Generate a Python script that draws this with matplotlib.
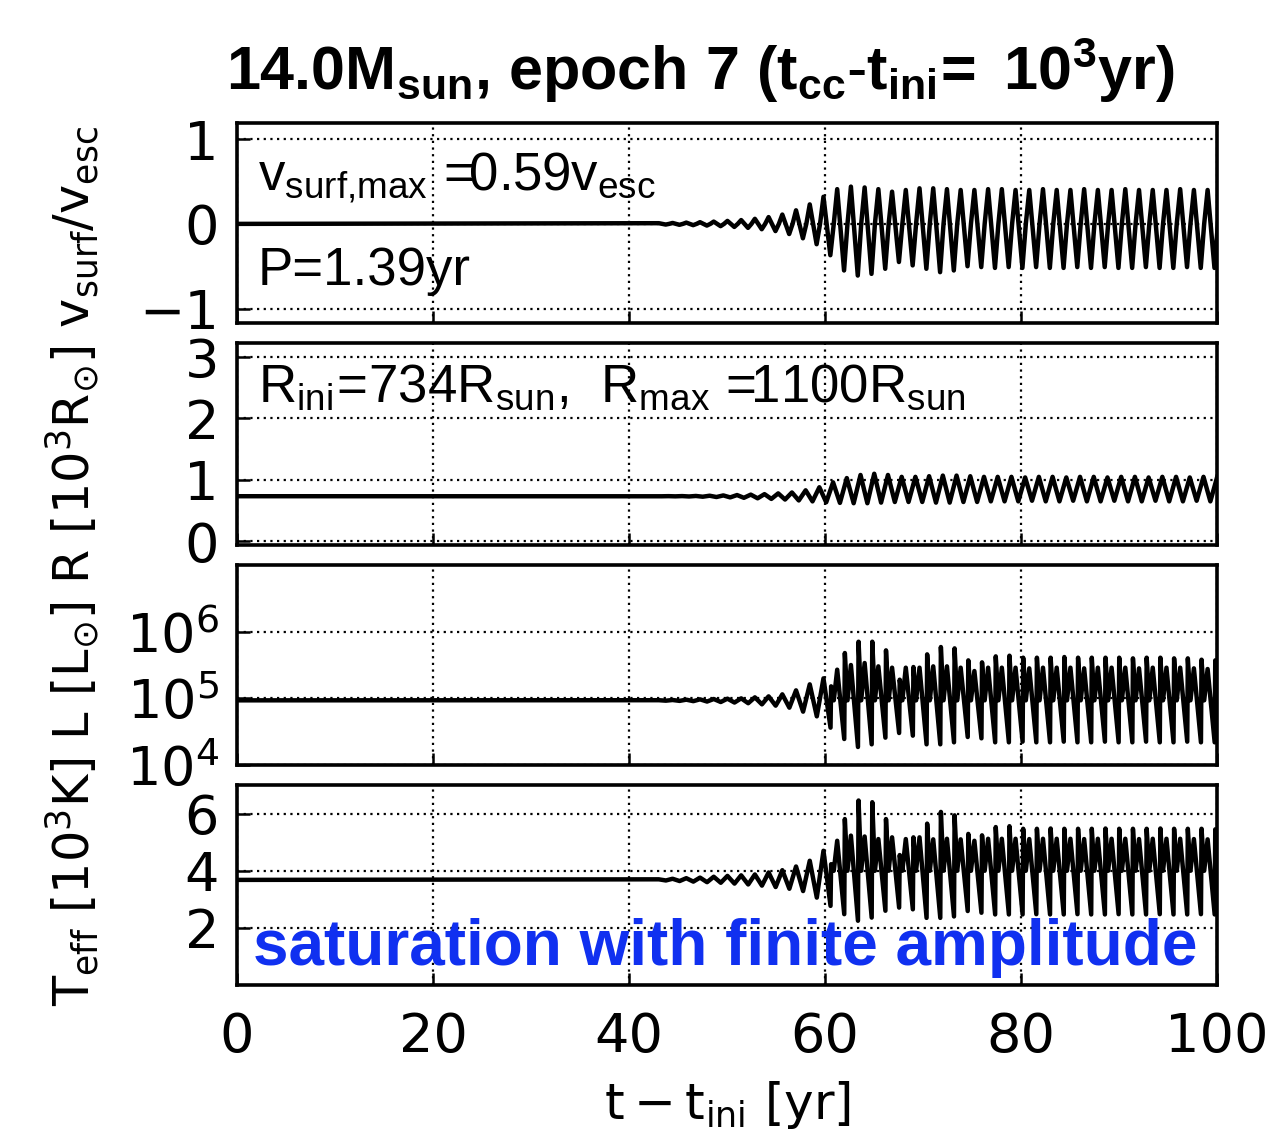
import numpy as np
import matplotlib
matplotlib.use('Agg')
import matplotlib.pyplot as plt

plt.rcParams['mathtext.fontset'] = 'dejavusans'
plt.rcParams['mathtext.rm'] = 'Liberation Sans'
plt.rcParams['mathtext.it'] = 'Liberation Sans'
plt.rcParams['mathtext.bf'] = 'Liberation Sans:bold'

# times of the surface-velocity maxima of each pulsation cycle [yr]
t_cyc = [43.05, 44.45, 45.85, 47.25, 48.65, 50.05, 51.45, 52.85, 54.25, 55.65,
         57.05, 58.45, 59.85, 61.25, 62.65, 64.05, 65.45, 66.85, 68.25, 69.65,
         71.05, 72.45, 73.85, 75.25, 76.65, 78.05, 79.45, 80.85, 82.25, 83.65,
         85.05, 86.45, 87.85, 89.25, 90.65, 92.05, 93.45, 94.85, 96.25, 97.65,
         99.05]

# v_surf / v_esc : max and min per cycle
v_base = 0.0
v_hi = [0.008, 0.011, 0.015, 0.02, 0.027, 0.035, 0.045, 0.06, 0.08, 0.11,
        0.16, 0.23, 0.32, 0.41, 0.44, 0.43, 0.41, 0.38, 0.40, 0.42,
        0.42, 0.41, 0.40, 0.40, 0.41, 0.41, 0.40, 0.40, 0.41, 0.40,
        0.40, 0.41, 0.40, 0.40, 0.41, 0.40, 0.40, 0.40, 0.41, 0.40, 0.40]
v_lo = [-0.008, -0.011, -0.015, -0.02, -0.027, -0.036, -0.047, -0.063, -0.085, -0.12,
        -0.17, -0.24, -0.37, -0.55, -0.61, -0.59, -0.53, -0.45, -0.49, -0.53,
        -0.57, -0.55, -0.50, -0.51, -0.52, -0.51, -0.52, -0.51, -0.52, -0.52,
        -0.51, -0.52, -0.51, -0.52, -0.52, -0.51, -0.52, -0.52, -0.51, -0.52, -0.52]

# R [10^3 Rsun] : max and min per cycle
r_base = 0.734
r_hi = [0.735, 0.736, 0.738, 0.742, 0.747, 0.753, 0.760, 0.768, 0.780, 0.795,
        0.83, 0.88, 0.96, 1.03, 1.08, 1.10, 1.08, 1.05, 1.05, 1.06,
        1.07, 1.07, 1.06, 1.05, 1.05, 1.05, 1.04, 1.05, 1.05, 1.04,
        1.05, 1.05, 1.04, 1.05, 1.05, 1.04, 1.05, 1.05, 1.04, 1.05, 1.05]
r_lo = [0.733, 0.732, 0.730, 0.726, 0.721, 0.715, 0.708, 0.700, 0.690, 0.680,
        0.665, 0.650, 0.635, 0.625, 0.62, 0.62, 0.63, 0.64, 0.64, 0.64,
        0.63, 0.63, 0.64, 0.64, 0.65, 0.65, 0.65, 0.66, 0.65, 0.65,
        0.66, 0.65, 0.65, 0.66, 0.65, 0.65, 0.66, 0.65, 0.65, 0.66, 0.65]

# log10 L [Lsun] : secondary max, min, tall spike (nan = no spike yet)
nan = np.nan
logL_base = 4.97
logL_mid = 4.97
logL_sec = [4.972, 4.975, 4.98, 4.985, 4.99, 4.995, 5.0, 5.015, 5.03, 5.06,
            5.12, 5.21, 5.30, 5.43, 5.50, 5.53, 5.48, 5.46, 5.46, 5.46,
            5.48, 5.48, 5.46, 5.41, 5.46, 5.46, 5.46, 5.45, 5.46, 5.46,
            5.46, 5.45, 5.46, 5.46, 5.46, 5.45, 5.46, 5.46, 5.46, 5.45, 5.44]
logL_lo = [4.965, 4.962, 4.958, 4.952, 4.945, 4.937, 4.927, 4.91, 4.89, 4.86,
           4.80, 4.73, 4.56, 4.39, 4.27, 4.31, 4.41, 4.48, 4.44, 4.31,
           4.31, 4.34, 4.42, 4.40, 4.34, 4.34, 4.35, 4.34, 4.34, 4.35,
           4.34, 4.34, 4.35, 4.34, 4.34, 4.35, 4.34, 4.34, 4.35, 4.34, 4.34]
logL_tall = [nan, nan, nan, nan, nan, nan, nan, nan, nan, nan,
             nan, nan, 5.18, 5.68, 5.85, 5.85, 5.72, 5.28, 5.47, 5.66,
             5.77, 5.75, 5.57, 5.54, 5.63, 5.64, 5.61, 5.61, 5.61, 5.62,
             5.61, 5.61, 5.61, 5.61, 5.60, 5.61, 5.61, 5.60, 5.60, 5.58, 5.57]

# Teff [10^3 K] : secondary max, min, tall spike
T_base = 3.68
T_mid = 4.0
T_sec = [3.70, 3.72, 3.74, 3.76, 3.79, 3.82, 3.84, 3.87, 3.94, 4.02,
         4.15, 4.35, 4.70, 5.05, 5.23, 5.20, 5.11, 5.17, 5.11, 5.17,
         5.10, 5.12, 5.10, 5.05, 5.12, 5.12, 5.12, 5.11, 5.12, 5.12,
         5.12, 5.11, 5.12, 5.12, 5.12, 5.11, 5.12, 5.12, 5.12, 5.11, 5.10]
T_lo = [3.66, 3.64, 3.62, 3.60, 3.58, 3.55, 3.52, 3.48, 3.43, 3.37,
        3.29, 3.06, 2.77, 2.48, 2.25, 2.36, 2.60, 2.71, 2.65, 2.35,
        2.35, 2.40, 2.59, 2.53, 2.47, 2.47, 2.47, 2.48, 2.47, 2.47,
        2.48, 2.47, 2.47, 2.48, 2.47, 2.47, 2.48, 2.47, 2.47, 2.48, 2.47]
T_tall = [nan, nan, nan, nan, nan, nan, nan, nan, nan, nan,
          nan, nan, 4.23, 5.81, 6.46, 6.40, 5.81, 4.55, 5.17, 5.65,
          6.06, 5.94, 5.29, 5.24, 5.53, 5.56, 5.47, 5.47, 5.48, 5.47,
          5.47, 5.47, 5.48, 5.47, 5.47, 5.47, 5.48, 5.47, 5.47, 5.47, 5.45]


def saw_trace(base, hi, lo, mid):
    ts, ys = [0.0], [base]
    for tp, h, l in zip(t_cyc, hi, lo):
        ts += [tp, tp + 0.70, tp + 1.05]
        ys += [h, l, mid]
    return ts, ys


def wave_trace(base, hi, lo):
    ts, ys = [0.0], [base]
    for tp, h, l in zip(t_cyc, hi, lo):
        ts += [tp + 0.28, tp + 0.98]
        ys += [l, h]
    return ts, ys


def spike_trace(base, sec, lo, tall, mid):
    ts, ys = [0.0], [base]
    for tp, s, l, h in zip(t_cyc, sec, lo, tall):
        ts += [tp, tp + 0.72]
        ys += [s, l]
        if not np.isnan(h):
            ts += [tp + 0.78, tp + 1.05]
            ys += [h, mid]
    return ts, ys


fig = plt.figure(figsize=(12.72, 11.33), dpi=100)
boxes = [(0.1863, 0.7149, 0.7704, 0.1765),
         (0.1863, 0.5190, 0.7704, 0.1783),
         (0.1863, 0.3248, 0.7704, 0.1765),
         (0.1863, 0.1306, 0.7704, 0.1765)]
axes = [fig.add_axes(b) for b in boxes]
ax1, ax2, ax3, ax4 = axes

lw = 3.2
t, y = saw_trace(v_base, v_hi, v_lo, 0.0)
ax1.plot(t, y, color='black', lw=lw)
t, y = wave_trace(r_base, r_hi, r_lo)
ax2.plot(t, y, color='black', lw=lw)
t, y = spike_trace(logL_base, logL_sec, logL_lo, logL_tall, logL_mid)
ax3.plot(t, 10 ** np.array(y), color='black', lw=lw)
t, y = spike_trace(T_base, T_sec, T_lo, T_tall, T_mid)
ax4.plot(t, y, color='black', lw=lw)

ax1.set_ylim(-1.17, 1.19)
ax1.set_yticks([-1, 0, 1])
ax2.set_ylim(-0.06, 3.23)
ax2.set_yticks([0, 1, 2, 3])
ax3.set_yscale('log')
ax3.set_ylim(1e4, 1e7)
ax3.set_yticks([1e4, 1e5, 1e6])
ax3.minorticks_off()
ax4.set_ylim(0, 7)
ax4.set_yticks([2, 4, 6])

for ax in axes:
    ax.set_xlim(0, 100)
    ax.set_xticks([0, 20, 40, 60, 80, 100])
    ax.grid(True, linestyle=(0, (1, 2)), color='black', lw=1.6)
    ax.set_axisbelow(True)
    for sp in ax.spines.values():
        sp.set_linewidth(2.6)
    ax.tick_params(direction='in', length=9, width=1.8, labelsize=39)
    ax.tick_params(axis='y', pad=13)
    ax.tick_params(axis='x', pad=19)
for ax in axes[:3]:
    ax.tick_params(labelbottom=False)

# annotations
ax1.text(0.021, 0.665, r'$\mathrm{v_{surf{,}max}\,=\!\!0.59v_{esc}}$', transform=ax1.transAxes,
         fontsize=38, va='baseline', math_fontfamily='custom')
ax1.text(0.021, 0.19, 'P=1.39yr', transform=ax1.transAxes,
         fontsize=38, va='baseline', family='Liberation Sans')
ax2.text(0.021, 0.71,
         r'$\mathrm{R_{ini}\!=\!734R_{sun}{,}\ \ R_{max}\,=\!\!1100R_{sun}}$',
         transform=ax2.transAxes, fontsize=38, va='baseline', math_fontfamily='custom')
ax4.text(0.016, 0.10, 'saturation with finite amplitude', transform=ax4.transAxes,
         fontsize=46, fontweight='bold', color='#1030f0', va='baseline',
         family='Liberation Sans')

fig.text(0.551, 0.938,
         r'$\mathbf{14.0M_{sun}{,}\ epoch\ 7\ (t_{cc}\text{-}t_{ini}\!=\ 10^{3}yr)}$',
         ha='center', va='center', fontsize=44, math_fontfamily='custom')

fig.text(0.057, 0.50,
         r'$\mathrm{T_{eff}}\ [10^3\mathrm{K}]\ \mathrm{L}\ [\mathrm{L_{\odot}}]\ \mathrm{R}\ [10^3\mathrm{R_{\odot}}]\ \mathrm{v_{surf}/v_{esc}}$',
         rotation=90, ha='center', va='center', fontsize=35.5)
fig.text(0.572, 0.048, r'$\mathrm{t-t_{ini}}\ [\mathrm{yr}]$', ha='center', va='top', fontsize=36)

fig.savefig('out.png', dpi=100)
